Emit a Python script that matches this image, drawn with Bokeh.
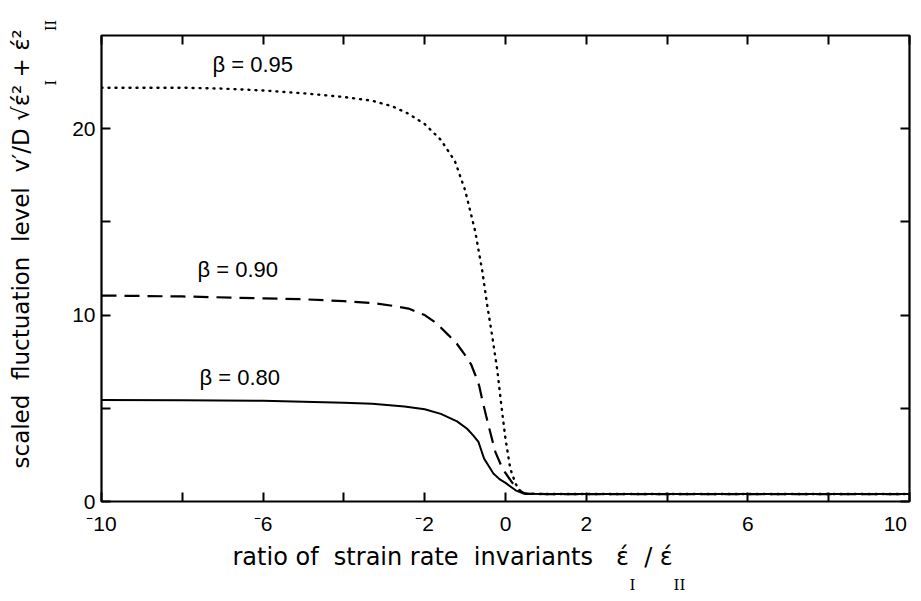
from bokeh.plotting import figure
from bokeh.models import Range1d, LinearAxis, FixedTicker, Label, Title
from bokeh.embed import file_html
from bokeh.resources import INLINE

# ---------------- data ----------------
x_095 = [-10, -9, -8, -7, -6, -5, -4, -3.3, -2.8, -2.4, -2.0, -1.6, -1.25, -1.0,
         -0.75, -0.57, -0.45, -0.32, -0.2, -0.1, 0.0, 0.12, 0.25, 0.35, 0.5, 1, 10]
y_095 = [22.2, 22.2, 22.2, 22.15, 22.05, 21.9, 21.7, 21.5, 21.2, 20.8, 20.25, 19.4, 18.25, 16.7,
         14.5, 12.3, 10.5, 8.75, 7.0, 5.1, 3.35, 1.75, 0.95, 0.6, 0.42, 0.4, 0.4]

x_090 = [-10, -8, -6, -5, -4, -3.3, -2.8, -2.4, -2.0, -1.7, -1.4, -1.2, -1.0, -0.85,
         -0.75, -0.65, -0.57, -0.48, -0.4, -0.25, -0.07, 0.17, 0.37, 0.5, 1, 10]
y_090 = [11.05, 11.0, 10.9, 10.85, 10.75, 10.65, 10.5, 10.35, 10.0, 9.55, 8.9, 8.45, 7.85, 7.35,
         6.8, 6.2, 5.4, 4.6, 3.9, 2.65, 1.75, 1.0, 0.55, 0.42, 0.4, 0.4]

x_080 = [-10, -8, -6, -4, -3.3, -2.5, -2.0, -1.6, -1.2, -0.95, -0.8, -0.67, -0.6, -0.53,
         -0.4, -0.3, -0.15, 0, 0.25, 0.45, 1, 10]
y_080 = [5.45, 5.43, 5.4, 5.3, 5.25, 5.1, 4.95, 4.7, 4.3, 3.9, 3.55, 3.2, 2.75, 2.3,
         1.85, 1.5, 1.2, 1.0, 0.6, 0.42, 0.4, 0.4]

series_labels = ["β = 0.95", "β = 0.90", "β = 0.80"]

x_tick_marks = [-10, -8, -6, -4, -2, 0, 2, 4, 6, 8, 10]
x_label_values = [-10, -6, -2, 0, 2, 6, 10]
x_label_text = ["⁻10", "⁻6", "⁻2", "0", "2", "6", "10"]
y_tick_marks = [0, 5, 10, 15, 20]
y_label_values = [0, 10, 20]
y_label_text = ["0", "10", "20"]

NB = "\u00a0"
x_title = "ratio of" + NB * 2 + "strain rate" + NB * 2 + "invariants" + NB * 3 + "έ" + NB * 2 + "/" + NB + "έ"
x_title_sub = "I" + NB * 8 + "II"
y_title = ("scaled" + NB * 2 + "fluctuation" + NB * 2 + "level" + NB * 2 + "v′/D" + NB
           + "√έ²" + NB + "+" + NB + "έ²")
y_title_sub = "I" + NB * 11 + "II"

X_MIN, X_MAX = -10, 10
Y_MIN, Y_MAX = 0, 25

# ---------------- layout (page pixels) ----------------
FR_L, FR_R, FR_T, FR_B = 109, 917, 43, 511
W, H = 913, 593


def px_x(px):
    return X_MIN + (px - FR_L) * (X_MAX - X_MIN) / (FR_R - FR_L)


def px_y(py):
    return Y_MIN + (FR_B - py) * (Y_MAX - Y_MIN) / (FR_B - FR_T)


NUM_FONT = "Liberation Sans"
TXT_FONT = "DejaVu Sans"
SUB_FONT = "DejaVu Serif"

p = figure(width=W, height=H,
           x_range=Range1d(X_MIN, X_MAX), y_range=Range1d(Y_MIN, Y_MAX),
           output_backend="svg", toolbar_location=None,
           min_border_left=FR_L - 8, min_border_right=W - (FR_R - 8),
           min_border_top=FR_T - 8, min_border_bottom=H - (FR_B - 8))
p.grid.visible = False
p.background_fill_color = "white"
p.border_fill_color = "white"
p.outline_line_color = "black"
p.outline_line_width = 2.2
p.outline_line_alpha = 1.0

# the last x label sits a little inside the frame, as in the reference
label_nudge = 0.35
x_label_pos = [v - label_nudge if v == X_MAX else v for v in x_label_values]


def tick_style(ax):
    ax.axis_line_color = None
    ax.major_tick_in = 9
    ax.major_tick_out = 0
    ax.major_tick_line_width = 2
    ax.major_tick_line_color = "black"
    ax.minor_tick_in = 9
    ax.minor_tick_out = 0
    ax.minor_tick_line_width = 2
    ax.minor_tick_line_color = "black"


# bottom axis: tick marks as minor ticks, labels on major positions
xa = p.xaxis[0]
tick_style(xa)
xa.ticker = FixedTicker(ticks=x_label_pos, minor_ticks=x_tick_marks)
xa.major_tick_line_color = None
xa.major_label_overrides = {v: t for v, t in zip(x_label_pos, x_label_text)}
xa.major_label_standoff = 10
xa.major_label_text_font = NUM_FONT
xa.major_label_text_font_size = "21px"
xa.major_label_text_color = "black"

# left axis
ya = p.yaxis[0]
tick_style(ya)
ya.ticker = FixedTicker(ticks=y_label_values,
                        minor_ticks=[v for v in y_tick_marks if v not in y_label_values])
ya.major_label_overrides = {v: t for v, t in zip(y_label_values, y_label_text)}
ya.major_label_standoff = 6
ya.major_label_text_font = NUM_FONT
ya.major_label_text_font_size = "21px"
ya.major_label_text_color = "black"

# top and right axes: tick marks only
top = LinearAxis(ticker=FixedTicker(ticks=[], minor_ticks=x_tick_marks))
tick_style(top)
p.add_layout(top, "above")
right = LinearAxis(ticker=FixedTicker(ticks=[], minor_ticks=y_tick_marks))
tick_style(right)
p.add_layout(right, "right")

# curves
p.line(x_095, y_095, line_color="black", line_width=2.4, line_dash="1 6", line_cap="round")
p.line(x_090, y_090, line_color="black", line_width=2.2, line_dash="15 8")
p.line(x_080, y_080, line_color="black", line_width=2.0)

# curve labels
for txt, lx, ly in zip(series_labels, [220, 205, 207], [72, 278, 386]):
    p.add_layout(Label(x=px_x(lx), y=px_y(ly), text=txt, text_font=NUM_FONT,
                       text_font_size="22px", text_baseline="middle", text_align="left",
                       text_color="black"))

# x axis title: main row, then subscript row
p.add_layout(Title(text=x_title, align="left", offset=240 - FR_L, standoff=6,
                   vertical_align="bottom", text_font=TXT_FONT, text_font_size="24px",
                   text_font_style="normal", text_color="black"), "below")
p.add_layout(Title(text=x_title_sub, align="left", offset=637 - FR_L, standoff=0,
                   vertical_align="bottom", text_font=SUB_FONT, text_font_size="15px",
                   text_font_style="normal", text_color="black"), "below")

# y axis title: subscript row (nearest the axis), then main row
p.add_layout(Title(text=y_title_sub, align="left", offset=FR_B - 95, standoff=18,
                   vertical_align="top", text_font=SUB_FONT, text_font_size="14px",
                   text_font_style="normal", text_color="black"), "left")
p.add_layout(Title(text=y_title, align="left", offset=FR_B - 478, standoff=0,
                   vertical_align="bottom", text_font=TXT_FONT, text_font_size="23px",
                   text_font_style="normal", text_color="black"), "left")

open("out.html", "w").write(file_html(p, INLINE))
